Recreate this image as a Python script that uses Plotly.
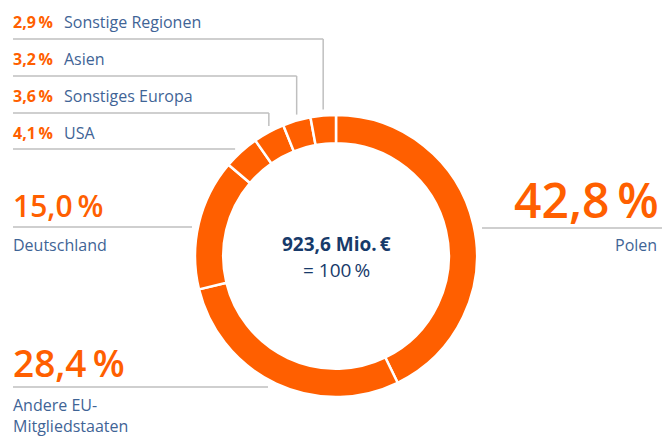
import math
import plotly.graph_objects as go

# ---- data ----
regions = ["Polen", "Andere EU-Mitgliedstaaten", "Deutschland", "USA",
           "Sonstiges Europa", "Asien", "Sonstige Regionen"]
shares = [42.8, 28.4, 15.0, 4.1, 3.6, 3.2, 2.9]
share_labels = ["42,8\u2009%", "28,4\u2009%", "15,0\u2009%", "4,1\u2009%",
                "3,6\u2009%", "3,2\u2009%", "2,9\u2009%"]
total_label = "923,6 Mio.\u2009€"
total_sub = "= 100\u2009%"

W, H = 662, 436
ORANGE = "#FF5F00"
BLUE = "#3F6496"
NAVY = "#173A6A"
GRAY = "#BFBFBF"
FONT = "Open Sans"

# donut geometry (pixels)
cx, cy, R = 336, 256, 141
hole = 0.80


def px(x):
    return x / W


def py(y):
    return 1 - y / H


fig = go.Figure(go.Pie(
    values=shares, labels=regions, sort=False, direction="clockwise",
    rotation=0, hole=hole, textinfo="none", hoverinfo="label+percent",
    marker=dict(colors=[ORANGE] * len(shares), line=dict(color="white", width=2.5)),
    domain=dict(x=[px(cx - R), px(cx + R)], y=[py(cy + R), py(cy - R)]),
    showlegend=False,
))

# slice mid-angles (degrees clockwise from 12 o'clock)
tot = sum(shares)
mids = []
acc = 0
for v in shares:
    mids.append((acc + v / 2) / tot * 360)
    acc += v


def outer_pt(i):
    a = math.radians(mids[i])
    return cx + R * math.sin(a), cy - R * math.cos(a)


shapes = []
annots = []


def line(x0, y0, x1, y1):
    shapes.append(dict(type="line", xref="paper", yref="paper",
                       x0=px(x0), y0=py(y0), x1=px(x1), y1=py(y1),
                       line=dict(color=GRAY, width=1.5)))


def text(x, y, s, size, color, xanchor="left", weight="normal"):
    annots.append(dict(xref="paper", yref="paper", x=px(x), y=py(y),
                       text=s, showarrow=False, borderpad=0,
                       xanchor=xanchor, yanchor="middle",
                       font=dict(family=FONT, size=size, color=color, weight=weight)))


# small labels (top-left rows): index, text y, line y
rows = [(6, 22, 39), (5, 59, 76), (4, 96, 113), (3, 133, 149)]
for i, ty, ly in rows:
    text(12, ty, share_labels[i], 16, ORANGE, weight="bold")
    text(63, ty, regions[i], 16, BLUE)
    ox, oy = outer_pt(i)
    if i != 3:
        line(13, ly, ox, ly)
        line(ox, ly, ox, oy - 6)
    else:
        line(13, ly, ox - 6, ly)

# Deutschland
text(12, 205, share_labels[2], 30, ORANGE, weight=600)
line(13, 227, 192, 227)
text(12, 245, regions[2], 16, BLUE)

# Polen
text(660, 199, share_labels[0], 48, ORANGE, xanchor="right", weight=600)
line(482, 228, 662, 228)
text(658, 245, regions[0], 16, BLUE, xanchor="right")

# Andere EU-Mitgliedstaaten
text(12, 362, share_labels[1], 37, ORANGE, weight=600)
line(13, 387, 268, 387)
text(12, 405, "Andere EU-", 16, BLUE)
text(12, 426, "Mitgliedstaaten", 16, BLUE)

# centre
text(cx, 244, total_label, 19, NAVY, xanchor="center", weight="bold")
text(cx, 270, total_sub, 19, NAVY, xanchor="center")

fig.update_layout(width=W, height=H, margin=dict(l=0, r=0, t=0, b=0),
                  paper_bgcolor="white", plot_bgcolor="white",
                  shapes=shapes, annotations=annots)
fig.write_html("out.html", config={"displayModeBar": False},
               post_script="document.body.style.margin='0';document.body.style.padding='0';")
